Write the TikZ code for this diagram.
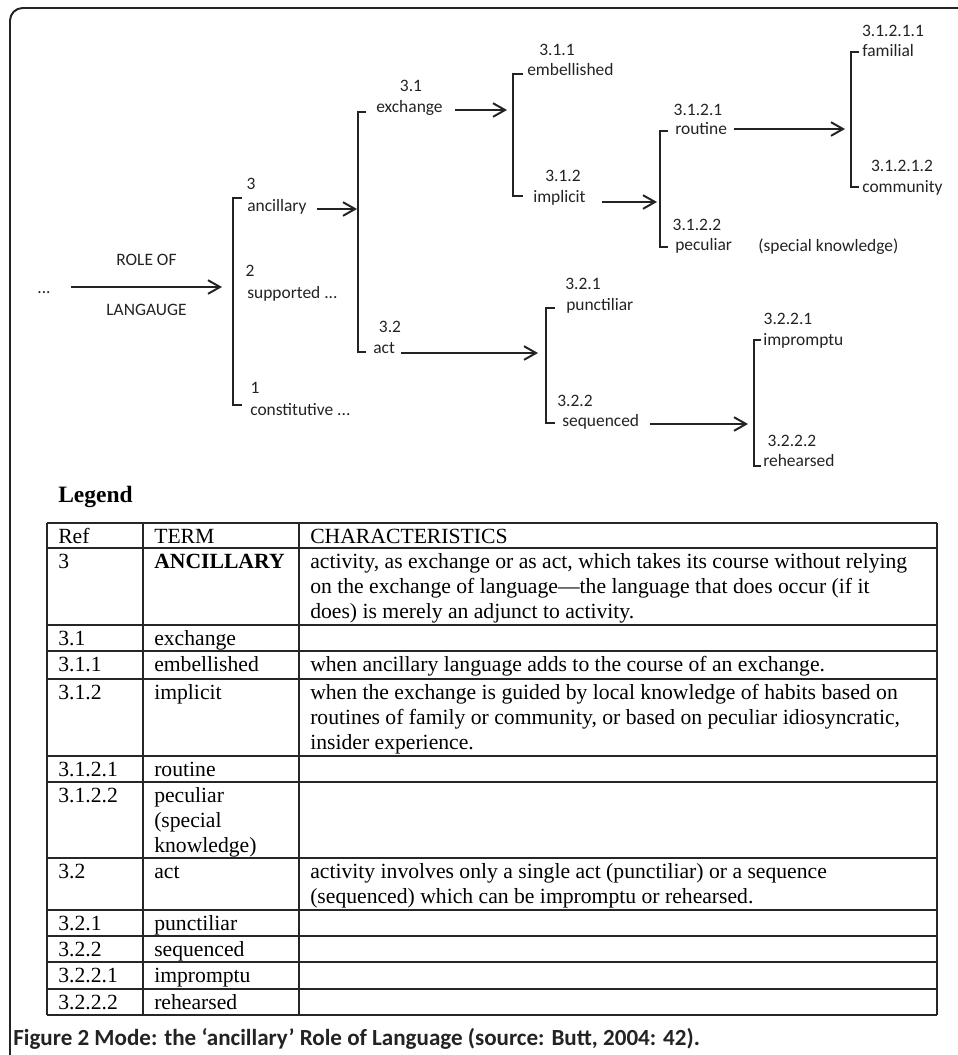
\documentclass[tikz,border=0pt]{standalone}
\usepackage{fontspec}
\setmainfont{Liberation Serif}
\newfontfamily\diagfont{Carlito}
\usetikzlibrary{arrows.meta,positioning,calc}
\definecolor{inkcolor}{RGB}{35,35,35}

\newcommand{\lblfont}{\diagfont\fontsize{12.4}{14}\selectfont}
\newcommand{\tabfont}{\fontsize{15.4}{17.72}\selectfont}
\newcommand{\capfont}{\diagfont\bfseries\fontsize{16.4}{18}\selectfont}

\begin{document}
\begin{tikzpicture}[x=0.025cm, y=-0.025cm,
    lbl/.style={font=\lblfont, inner sep=0pt, text height=0.7em, text depth=0.2em, text=inkcolor},
    term/.style={lbl, anchor=west},
    brk/.style={draw=inkcolor, line width=1.3pt},
    arr/.style={draw=inkcolor, line width=1.4pt, -{Straight Barb[length=3mm, width=3.4mm]}},
    rule/.style={draw=black!85, line width=0.8pt},
    cell/.style={font=\tabfont, anchor=base west, inner sep=0pt, align=left}
]
    \useasboundingbox (0,0) rectangle (958,1055);

    % Frame
    \draw[line width=1.4pt, draw=inkcolor, rounded corners=9] (975,8) -- (10,8) -- (10,1070);

    % Terms
    \node[lbl] (dots) at (44,290) {...};
    \node[term] (anc) at (247,208) {ancillary};
    \node[term] (sup) at (247,295) {supported ...};
    \node[term] (con) at (250,412) {constitutive ...};
    \node[term] (exc) at (376,109) {exchange};
    \node[term] (act) at (373,350) {act};
    \node[term] (emb) at (527,72) {embellished};
    \node[term] (imp) at (533,199) {implicit};
    \node[term] (rou) at (675,131) {routine};
    \node[term] (pec) at (675,247) {peculiar};
    \node[term] (spk) at (758,248) {(special knowledge)};
    \node[term] (fam) at (862,53) {familial};
    \node[term] (com) at (862,189) {community};
    \node[term] (pun) at (566,307) {punctiliar};
    \node[term] (seq) at (562,423) {sequenced};
    \node[term] (imu) at (763,342) {impromptu};
    \node[term] (reh) at (763,463) {rehearsed};

    % Numbers
    \node[lbl] (n3) at (251,186) {3};
    \node[lbl] (n2) at (250,273) {2};
    \node[lbl] (n1) at (255,390) {1};
    \node[lbl] (n31) at (411,88) {3.1};
    \node[lbl] (n32) at (390,329) {3.2};
    \node[lbl] (n311) at (557,52) {3.1.1};
    \node[lbl] (n312) at (563,178) {3.1.2};
    \node[lbl] (n3121) at (698,112) {3.1.2.1};
    \node[lbl] (n3122) at (697,227) {3.1.2.2};
    \node[lbl] (n31211) at (893,33) {3.1.2.1.1};
    \node[lbl] (n31212) at (902,168) {3.1.2.1.2};
    \node[lbl] (n321) at (583,286) {3.2.1};
    \node[lbl] (n322) at (575,403) {3.2.2};
    \node[lbl] (n3221) at (788,321) {3.2.2.1};
    \node[lbl] (n3222) at (792,443) {3.2.2.2};

    % Brackets: x, top, bottom, tick
    \foreach \bx/\by/\ey/\tk in {233/198/405/9, 358/112/352/8, 513/74/196/10,
        660/131/247/8, 851/52/187/8, 546/308/423/9, 754/340/466/7}
        \draw[brk] (\bx+\tk,\by) -- (\bx,\by) -- (\bx,\ey) -- (\bx+\tk,\ey);

    % Arrow ends on the brackets
    \coordinate (in1) at (222,287);
    \coordinate (in3) at (357,209);
    \coordinate (in31) at (507,110);
    \coordinate (in312) at (657,202);
    \coordinate (in3121) at (845,129);
    \coordinate (in32) at (538,353);
    \coordinate (in322) at (748,424);

    \draw[arr] ($(dots.east |- in1)+(20,0)$) -- (in1)
        node[lbl, midway, above=0.45cm] (role) {ROLE OF}
        node[lbl, midway, below=0.43cm] (lang) {LANGAUGE};
    \draw[arr] ($(anc.east |- in3)+(10,0)$) -- (in3);
    \draw[arr] ($(exc.east |- in31)+(12,0)$) -- (in31);
    \draw[arr] ($(imp.east |- in312)+(16,0)$) -- (in312);
    \draw[arr] ($(rou.east |- in3121)+(7,0)$) -- (in3121);
    \draw[arr] ($(act.east |- in32)+(6,0)$) -- (in32);
    \draw[arr] ($(seq.east |- in322)+(11,0)$) -- (in322);

    % Legend
    \node[anchor=base west, inner sep=0pt, font=\fontsize{16.7}{20}\selectfont\bfseries] (legend) at (58,502) {Legend};

    \foreach \y in {523,548,625,651,679,756,782,858,910,936,962,989,1015}
        \draw[rule] (47,\y) -- (937,\y);
    \foreach \x in {47,143,299,937}
        \draw[rule] (\x,523) -- (\x,1015);

    % multi-line cells sit on the baseline of their last line
    \node[cell] (hr) at (58,543) {Ref};
    \node[cell] (ht) at (154,543) {TERM};
    \node[cell] (hc) at (310,543) {CHARACTERISTICS};

    \node[cell] (r3) at (58,568) {3};
    \node[cell] (t3) at (154,568) {\textbf{ANCILLARY}};
    \node[cell] (c3) at (310,618) {activity, as exchange or as act, which takes its course without relying\\
        on the exchange of language---the language that does occur (if it\\
        does) is merely an adjunct to activity.};

    \node[cell] (r31) at (58,645) {3.1};
    \node[cell] (t31) at (154,645) {exchange};

    \node[cell] (r311) at (58,671) {3.1.1};
    \node[cell] (t311) at (154,671) {embellished};
    \node[cell] (c311) at (310,671) {when ancillary language adds to the course of an exchange.};

    \node[cell] (r312) at (58,699) {3.1.2};
    \node[cell] (t312) at (154,699) {implicit};
    \node[cell] (c312) at (310,749) {when the exchange is guided by local knowledge of habits based on\\
        routines of family or community, or based on peculiar idiosyncratic,\\
        insider experience.};

    \node[cell] (r3121) at (58,776) {3.1.2.1};
    \node[cell] (t3121) at (154,776) {routine};

    \node[cell] (r3122) at (58,802) {3.1.2.2};
    \node[cell] (t3122) at (154,852) {peculiar\\(special\\knowledge)};

    \node[cell] (r32) at (58,878) {3.2};
    \node[cell] (t32) at (154,878) {act};
    \node[cell] (c32) at (310,903) {activity involves only a single act (punctiliar) or a sequence\\
        (sequenced) which can be impromptu or rehearsed.};

    \foreach \rf/\tm/\yy [count=\i] in {3.2.1/punctiliar/930, 3.2.2/sequenced/956,
        3.2.2.1/impromptu/982, 3.2.2.2/rehearsed/1009}
    {
        \node[cell] (rr\i) at (58,\yy) {\rf};
        \node[cell] (tt\i) at (154,\yy) {\tm};
    }

    % Caption
    \node[anchor=base west, inner sep=0pt, font=\capfont, text=inkcolor] (caption) at (13,1045)
        {Figure 2 Mode: the ‘ancillary’ Role of Language (source: Butt, 2004: 42).};
\end{tikzpicture}
\end{document}
